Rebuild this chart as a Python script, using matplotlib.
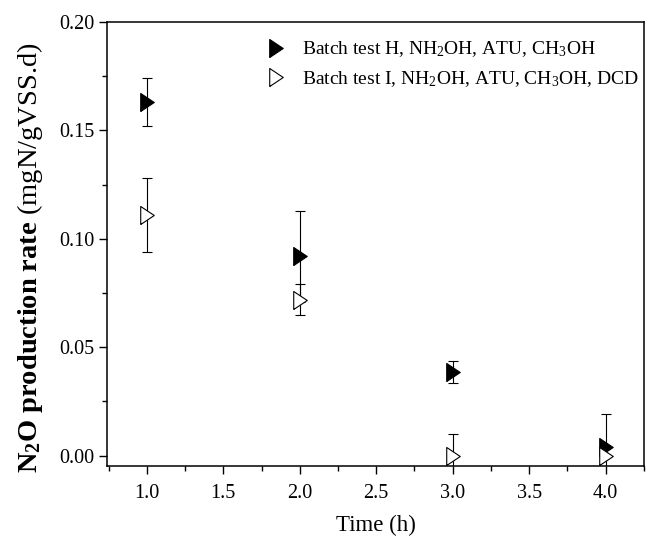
import matplotlib
matplotlib.use("Agg")
import matplotlib.pyplot as plt

plt.rcParams["font.family"] = ["Liberation Serif", "DejaVu Serif"]
plt.rcParams["mathtext.fontset"] = "custom"
plt.rcParams["mathtext.rm"] = "Liberation Serif"
plt.rcParams["mathtext.it"] = "Liberation Serif:italic"
plt.rcParams["mathtext.bf"] = "Liberation Serif:bold"

# values
time_h = [1.0, 2.0, 3.0, 4.0]
rate_h = [0.163, 0.092, 0.0385, 0.004]
err_h = [0.011, 0.021, 0.005, 0.015]
rate_i = [0.111, 0.072, 0.000, 0.000]
err_i = [0.017, 0.007, 0.010, 0.000]

label_h = r"Batch test H, NH$_2$OH, ATU, CH$_3$OH"
label_i = r"Batch test I, NH$_2$OH, ATU, CH$_3$OH, DCD"

# narrow right-pointing triangle, as in the original
tri = [(-0.75, -1.0), (0.75, 0.0), (-0.75, 1.0), (-0.75, -1.0)]

fig = plt.figure(figsize=(6.49, 5.39), dpi=100)
ax = fig.add_axes([0.165, 0.1355, 0.827, 0.8235])

ax.errorbar(time_h, rate_h, yerr=err_h, fmt="none", ecolor="black",
            elinewidth=0.8, capsize=3.5, capthick=0.8, zorder=2)
ax.errorbar(time_h, rate_i, yerr=err_i, fmt="none", ecolor="black",
            elinewidth=0.8, capsize=3.5, capthick=0.8, zorder=2)
ax.plot(time_h, rate_h, ls="none", marker=tri, ms=13, mfc="black",
        mec="black", mew=0.8, label=label_h, zorder=3)
ax.plot(time_h, rate_i, ls="none", marker=tri, ms=13, mfc="white",
        mec="black", mew=0.8, label=label_i, zorder=4)

ax.set_xlim(0.74, 4.243)
ax.set_ylim(-0.0048, 0.20)
ax.set_xticks([1.0, 1.5, 2.0, 2.5, 3.0, 3.5, 4.0])
ax.set_xticks([0.75, 1.25, 1.75, 2.25, 2.75, 3.25, 3.75, 4.25], minor=True)
ax.set_yticks([0.00, 0.05, 0.10, 0.15, 0.20])
ax.set_yticks([0.025, 0.075, 0.125, 0.175], minor=True)
ax.xaxis.set_major_formatter(matplotlib.ticker.FormatStrFormatter("%.1f"))
ax.yaxis.set_major_formatter(matplotlib.ticker.FormatStrFormatter("%.2f"))

for s in ax.spines.values():
    s.set_linewidth(1.1)
ax.tick_params(which="major", direction="out", length=5.5, width=1.0,
               labelsize=14.5)
ax.tick_params(which="minor", direction="out", length=3.5, width=1.0)
ax.tick_params(axis="x", which="major", pad=7.5)
ax.tick_params(axis="y", which="major", pad=3.5)

ax.set_xlabel("Time (h)", fontsize=16.5, labelpad=8.5)
ax.set_ylabel(r"$\mathbf{N_2O\ production\ rate}$ (mgN/gVSS.d)",
              fontsize=20.5)
ax.yaxis.set_label_coords(-0.116, 0.47)

ax.legend(loc="upper left", bbox_to_anchor=(0.26, 1.0), frameon=False,
          fontsize=14, handletextpad=0.73, labelspacing=0.5,
          handlelength=1.2, borderaxespad=0.5)

fig.savefig("out.png", dpi=100)
